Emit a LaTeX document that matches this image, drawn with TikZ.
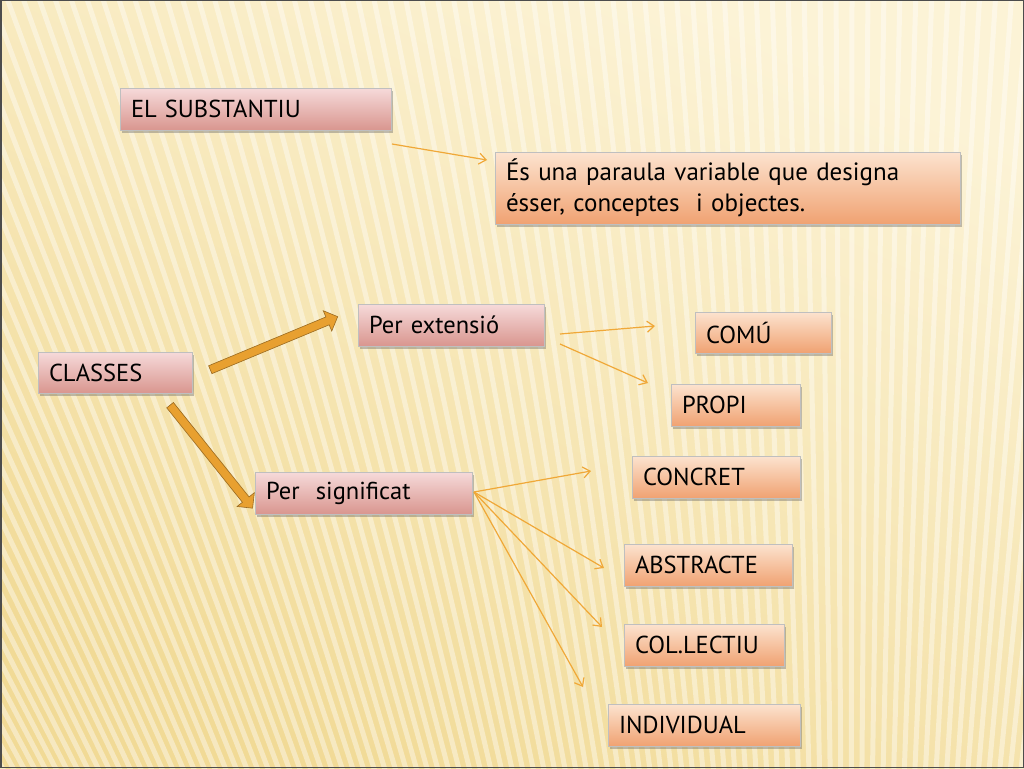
\documentclass[tikz,border=0pt]{standalone}
\usepackage{fontspec}
\setmainfont{PT Sans}
\usetikzlibrary{shadows,shapes.arrows,arrows.meta}
\definecolor{bgA}{HTML}{FCF3D6}
\definecolor{bgB}{HTML}{F1DA96}
\definecolor{pinkT}{HTML}{F6DADA}
\definecolor{pinkB}{HTML}{D9968F}
\definecolor{orT}{HTML}{FCE3CF}
\definecolor{orB}{HTML}{F0A272}
\definecolor{lineOr}{HTML}{F0A838}
\definecolor{fatOr}{HTML}{E8A030}
\definecolor{fatEdge}{HTML}{9A6A20}
\tikzset{
  x=1pt, y=-1pt,
  basebox/.style={anchor=north west, inner xsep=11pt, inner ysep=0pt, outer sep=0pt,
    draw=black!25, line width=0.4pt,
    drop shadow={shadow xshift=2pt, shadow yshift=-2.5pt, opacity=0.4, fill=black!60},
    font=\fontsize{24.5}{26}\selectfont, text=black, align=left},
  pinkbox/.style={basebox, top color=pinkT, bottom color=pinkB},
  orbox/.style={basebox, top color=orT, bottom color=orB},
  thinarrow/.style={draw=lineOr, line width=1.2pt, -{Straight Barb[length=7pt,width=11pt]}},
  fatarrow/.style={single arrow, draw=fatEdge, fill=fatOr, line width=0.6pt,
    inner sep=3.5pt, minimum width=22pt, single arrow head extend=6pt,
    single arrow head indent=0pt, anchor=center}
}
\begin{document}
\begin{tikzpicture}
\useasboundingbox (0,0) rectangle (1024,768);
% background
\shade[shading=axis, top color=bgA, bottom color=bgB, shading angle=-25] (0,0) rectangle (1024,768);
\begin{scope}
\clip (0,0) rectangle (1024,768);
\foreach \i in {-700,-684,...,1150} {
  \draw[white, opacity=0.4, line width=5pt] (\i,-10) -- (850,2300);
}
\end{scope}
\draw[black!70, line width=1.5pt] (0.75,0.75) rectangle (1023.25,767.25);

% boxes
\node[pinkbox, minimum width=271pt, minimum height=42pt, text width=249pt] (subst) at (120,88) {EL SUBSTANTIU};
\node[orbox, minimum width=465pt, minimum height=72pt, text width=443pt,
      font=\fontsize{25}{31}\selectfont] (def) at (495,152) {És una paraula variable que designa\\ésser, conceptes\ \ i objectes.};
\node[pinkbox, minimum width=154pt, minimum height=41pt, text width=132pt] (classes) at (38,352) {CLASSES};
\node[pinkbox, minimum width=186pt, minimum height=42pt, text width=164pt] (ext) at (358,304) {Per extensió};
\node[pinkbox, minimum width=217pt, minimum height=42pt, text width=195pt] (sig) at (255,472) {Per\ \ significat};
\node[orbox, minimum width=136pt, minimum height=41pt, text width=114pt] (comu) at (695,312) {COMÚ};
\node[orbox, minimum width=129pt, minimum height=42pt, text width=107pt] (propi) at (671,384) {PROPI};
\node[orbox, minimum width=168pt, minimum height=42pt, text width=146pt] (concret) at (632,456) {CONCRET};
\node[orbox, minimum width=168pt, minimum height=42pt, text width=146pt] (abs) at (624,544) {ABSTRACTE};
\node[orbox, minimum width=160pt, minimum height=42pt, text width=138pt] (col) at (624,624) {COL.LECTIU};
\node[orbox, minimum width=192pt, minimum height=42pt, text width=170pt] (ind) at (608,704) {INDIVIDUAL};

% coordinates for connectors
\coordinate (s1) at (392,144);
\coordinate (s2) at (487,160);
\coordinate (e0a) at (560,334);
\coordinate (e0b) at (560,344);
\coordinate (e1) at (655,326);
\coordinate (e2) at (648,383);
\coordinate (g0) at (474,492);
\coordinate (g1) at (591,471);
\coordinate (g2) at (604,568);
\coordinate (g3) at (602,627);
\coordinate (g4) at (583,687);

\draw[thinarrow] (s1) -- (s2);
\draw[thinarrow] (e0a) -- (e1);
\draw[thinarrow] (e0b) -- (e2);
\draw[thinarrow] (g0) -- (g1);
\draw[thinarrow] (g0) -- (g2);
\draw[thinarrow] (g0) -- (g3);
\draw[thinarrow] (g0) -- (g4);

% fat arrows
\node[fatarrow, minimum height=138pt, rotate=22.6] (fa1) at (272,344) {};
\node[fatarrow, minimum height=132pt, rotate=-51.3] (fa2) at (210,455) {};
\end{tikzpicture}
\end{document}
